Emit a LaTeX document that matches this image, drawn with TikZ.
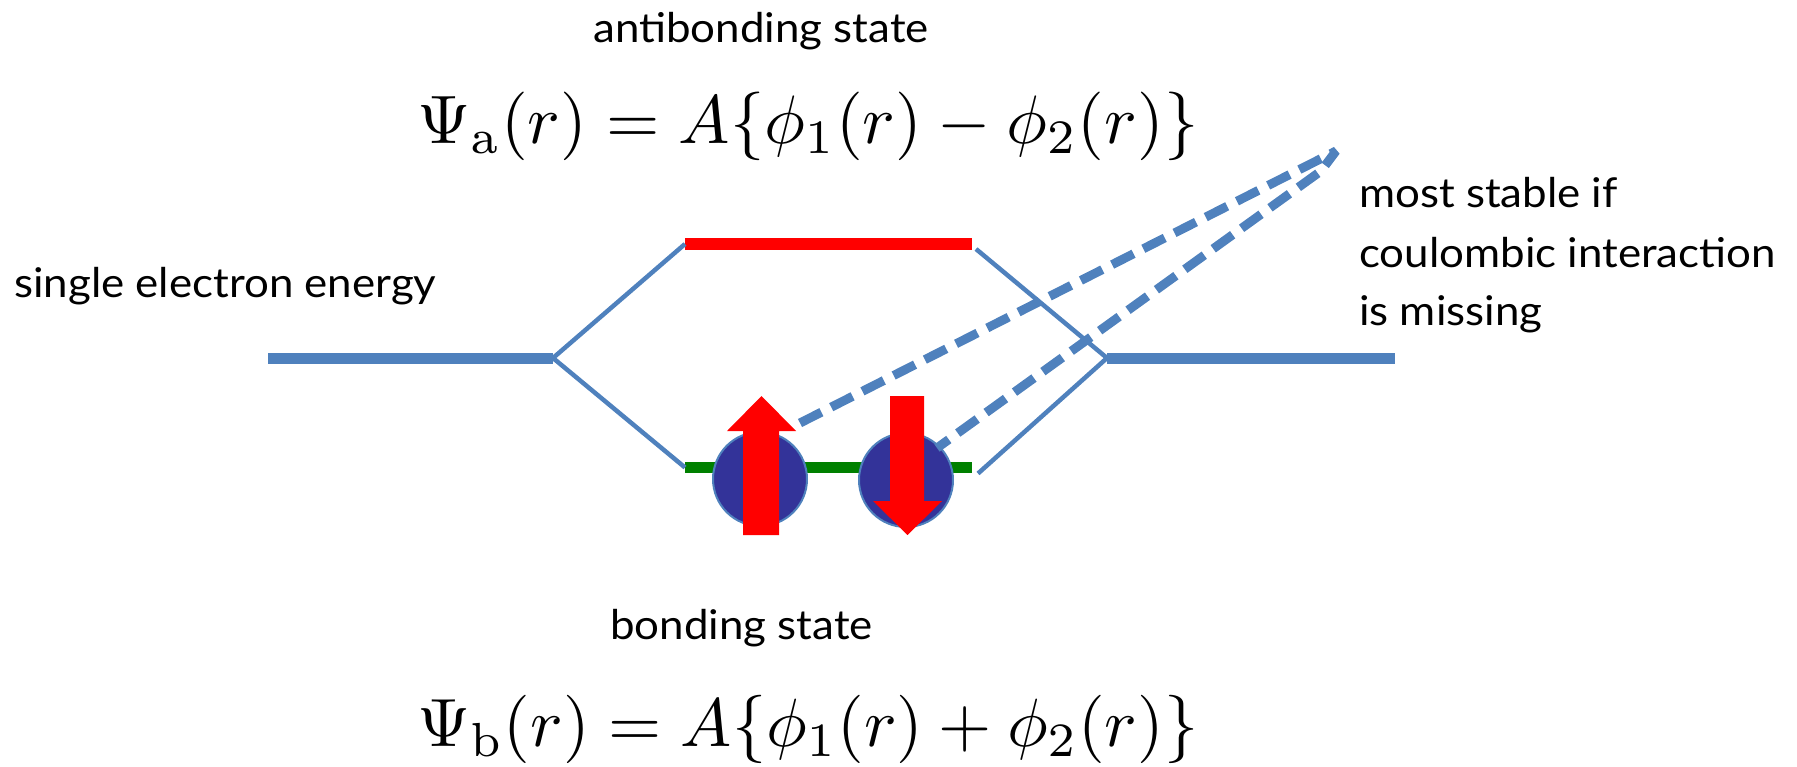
\documentclass[tikz,border=0pt]{standalone}
\usepackage[no-math]{fontspec}
\setmainfont{Lato}[FakeStretch=1.07]
\usetikzlibrary{calc}
\definecolor{pblue}{HTML}{4F81BD}
\definecolor{pred}{HTML}{FF0000}
\definecolor{pgreen}{HTML}{008000}
\definecolor{pnavy}{HTML}{333399}
\begin{document}
\begin{tikzpicture}[x=1pt,y=-1pt,
  level/.style={line width=11pt},
  link/.style={pblue,line width=4.5pt},
  lbl/.style={inner sep=0pt,anchor=base west,font=\fontsize{41}{48}\selectfont},
  eqn/.style={inner sep=0pt,anchor=base west},
  electron/.style={circle,fill=pnavy,draw=pblue,line width=2pt,minimum size=94pt,inner sep=0pt},
  spin/.style={fill=pred},
  callout/.style={pblue,line width=9pt,dash pattern=on 24pt off 11pt,line join=bevel}]
\useasboundingbox (0,0) rectangle (1797,766);
% coordinates
\coordinate (L1) at (268,358);
\coordinate (L2) at (553,358);
\coordinate (R1) at (1107,358);
\coordinate (R2) at (1395,358);
\coordinate (A1) at (685,244);
\coordinate (A2) at (972,244);
\coordinate (B1) at (685,467.5);
\coordinate (B2) at (972,467.5);
% levels
\draw[level,pblue] (L1) -- (L2);
\draw[level,pblue] (R1) -- (R2);
\draw[level,pred,line width=12pt] (A1) -- (A2);
\draw[level,pgreen] (B1) -- (B2);
% links
\draw[link] (L2) -- (A1);
\draw[link] (L2) -- (B1);
\draw[link] ($(A2)+(4,5)$) -- (R1);
\draw[link] ($(B2)+(6,6)$) -- (R1);
% electrons
\node[electron] (e1) at (760,479) {};
\node[electron] (e2) at (906,480) {};
\fill[spin] (743,535) -- (743,431) -- (727,431) -- (761.5,396) -- (796,431) -- (779,431) -- (779,535) -- cycle;
\fill[spin] (890,396) -- (890,501) -- (873,501) -- (907.5,535) -- (942,501) -- (924,501) -- (924,396) -- cycle;
% callout
\coordinate (c1) at (800,423);
\coordinate (c2) at (937,448);
\coordinate (tip) at (1336,151);
\coordinate (kink) at (1321,171);
\draw[callout] (c1) -- (tip) -- (kink) -- (c2);
% texts
\node[lbl] (se) at (14,297) {single electron energy};
\node[lbl] (ab) at (593,42) {antibonding state};
\node[lbl] (bs) at (610,639) {bonding state};
\node[lbl] (m1) at (1359,207) {most stable if};
\node[lbl] (m2) at (1359,267) {coulombic interaction};
\node[lbl] (m3) at (1359,325) {is missing};
\node[eqn] (pa) at (417,143) {\resizebox{781pt}{!}{$\Psi_{\mathrm{a}}(r) = A\{\phi_1(r) - \phi_2(r)\}$}};
\node[eqn] (pb) at (417,746) {\resizebox{781pt}{!}{$\Psi_{\mathrm{b}}(r) = A\{\phi_1(r) + \phi_2(r)\}$}};
\end{tikzpicture}
\end{document}
